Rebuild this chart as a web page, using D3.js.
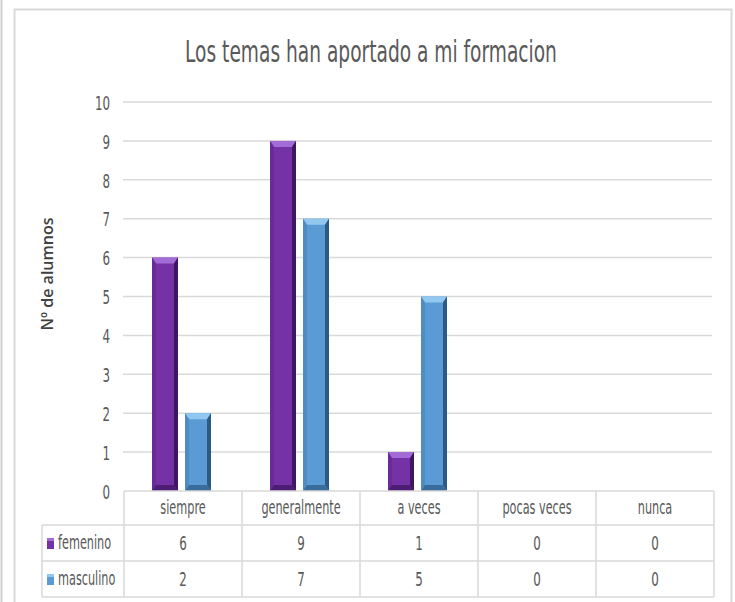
<!DOCTYPE html>
<html><head><meta charset="utf-8">
<script src="https://cdn.jsdelivr.net/npm/d3@7"></script>
<style>
html,body{margin:0;padding:0;background:#fff;}
svg{display:block;}
.cond{font-family:"DejaVu Sans Condensed","Liberation Sans Narrow","Open Sans",sans-serif;}
</style>
</head><body>
<svg id="c" width="735" height="602"></svg>
<script>
const title = "Los temas han aportado a mi formacion";
const yLabel = "Nº de alumnos";
const categories = ["siempre","generalmente","a veces","pocas veces","nunca"];
const seriesNames = ["femenino","masculino"];
const femenino = [6,9,1,0,0];
const masculino = [2,7,5,0,0];
const yTicks = [0,1,2,3,4,5,6,7,8,9,10];
const seriesValues = [femenino, masculino];

const colors = {
  femenino: {main:"#7432a6", top:"#a26bd6", left:"#6a2b99", right:"#3e1760", bottom:"#4d1d75"},
  masculino:{main:"#5b9bd5", top:"#92c7f0", left:"#4f8cc4", right:"#2c5a84", bottom:"#3a6c9b"}
};

const svg = d3.select("#c");
const textCol = "#595959";
const lineCol = "#d9d9d9";
const SX = 0.66;

function condText(parent, x, y, anchor, size, txt){
  return parent.append("g").attr("transform",`translate(${x},${y})`)
    .append("text").attr("class","cond").attr("transform",`scale(${SX},1)`)
    .attr("text-anchor",anchor).attr("font-size",size).attr("fill",textCol).text(txt);
}

// outer frame
svg.append("line").attr("x1",1.5).attr("x2",1.5).attr("y1",0).attr("y2",602).attr("stroke","#d0d0d0").attr("stroke-width",2);
svg.append("path").attr("d","M14.5,602 V9.5 H731.5 V602").attr("fill","none").attr("stroke","#d9d9d9").attr("stroke-width",2);

const plotLeft = 124, plotRight = 714, y0 = 491, y10 = 102;
const x = d3.scaleBand().domain(categories).range([plotLeft, plotRight]).paddingInner(0).paddingOuter(0);
const y = d3.scaleLinear().domain([0,10]).range([y0, y10]);
const xs = d3.scaleBand().domain(seriesNames).range([0,59]).paddingInner(7/33).paddingOuter(0);

// title (scaled horizontally to the reference width)
const tG = svg.append("g").attr("transform","translate(371,62)");
const tT = tG.append("text").attr("class","cond").attr("text-anchor","middle")
  .attr("font-size",31).attr("fill",textCol).text(title);
const tw = tT.node().getComputedTextLength();
tT.attr("transform",`scale(${372/tw},1)`);

// y axis labels
const yAxis = d3.axisLeft(y).tickValues(yTicks).tickSize(0).tickPadding(0).tickFormat(d3.format("d"));
const gAxis = svg.append("g").attr("transform",`translate(110,0)`).call(yAxis);
gAxis.select(".domain").remove();
gAxis.selectAll("text").attr("class","cond").attr("font-size",20).attr("fill",textCol)
  .attr("x",0).attr("dy","0.36em").attr("transform",`scale(${SX},1)`);
// gridlines
svg.append("g").selectAll("line").data(yTicks.filter(d=>d>0)).join("line")
  .attr("x1",123).attr("x2",712).attr("y1",d=>y(d)).attr("y2",d=>y(d))
  .attr("stroke",lineCol).attr("stroke-width",1.5);

// y label
svg.append("text").attr("transform",`translate(53,${274}) rotate(-90)`).attr("text-anchor","middle")
  .attr("font-family","'Open Sans',sans-serif").attr("font-size",16).attr("font-weight",600).attr("fill","#404040")
  .text(yLabel);

// bars
const gBars = svg.append("g");
categories.forEach((cat,i)=>{
  seriesNames.forEach((s,j)=>{
    const v = seriesValues[j][i];
    if(!v) return;
    const c = colors[s];
    const bx = x(cat) + x.bandwidth()/2 - 31 + xs(s);
    const bw = xs.bandwidth();
    const top = y(v), bot = y(0);
    const b = 6, bs = 4;
    const g = gBars.append("g");
    g.append("rect").attr("x",bx).attr("y",top).attr("width",bw).attr("height",bot-top).attr("fill",c.main);
    g.append("polygon").attr("points",`${bx},${top} ${bx+bw},${top} ${bx+bw-bs},${top+b} ${bx+bs},${top+b}`).attr("fill",c.top);
    g.append("polygon").attr("points",`${bx},${top} ${bx+bs},${top+b} ${bx+bs},${bot-b} ${bx},${bot}`).attr("fill",c.left);
    g.append("polygon").attr("points",`${bx+bw},${top} ${bx+bw-bs},${top+b} ${bx+bw-bs},${bot-b} ${bx+bw},${bot}`).attr("fill",c.right);
    g.append("polygon").attr("points",`${bx},${bot} ${bx+bs},${bot-b} ${bx+bw-bs},${bot-b} ${bx+bw},${bot}`).attr("fill",c.bottom);
  });
});

// data table
const rowY = [491, 525, 561, 597];
const legLeft = 42;
const gT = svg.append("g").attr("fill","none").attr("stroke",lineCol).attr("stroke-width",1.5);
gT.append("line").attr("x1",plotLeft).attr("x2",plotRight).attr("y1",rowY[0]).attr("y2",rowY[0]);
for(let r=1;r<rowY.length;r++){
  gT.append("line").attr("x1",legLeft).attr("x2",plotRight).attr("y1",rowY[r]).attr("y2",rowY[r]);
}
gT.append("line").attr("x1",legLeft).attr("x2",legLeft).attr("y1",rowY[1]).attr("y2",rowY[3]);
categories.forEach(c=>{
  gT.append("line").attr("x1",x(c)).attr("x2",x(c)).attr("y1",rowY[0]).attr("y2",rowY[3]);
});
gT.append("line").attr("x1",plotRight).attr("x2",plotRight).attr("y1",rowY[0]).attr("y2",rowY[3]);

const gTxt = svg.append("g");
categories.forEach(c=>{
  condText(gTxt, x(c)+x.bandwidth()/2, (rowY[0]+rowY[1])/2+6, "middle", 19, c);
});

seriesNames.forEach((s,j)=>{
  const cy = (rowY[j+1]+rowY[j+2])/2;
  svg.append("rect").attr("x",47).attr("y",cy-5).attr("width",7).attr("height",11).attr("fill",colors[s].main);
  svg.append("rect").attr("x",47).attr("y",cy-5).attr("width",7).attr("height",3).attr("fill",colors[s].top);
  condText(gTxt, 58, cy+6, "start", 19, s);
  seriesValues[j].forEach((d,i)=>{
    condText(gTxt, x(categories[i])+x.bandwidth()/2, cy+7, "middle", 20, d);
  });
});
</script>
</body></html>
